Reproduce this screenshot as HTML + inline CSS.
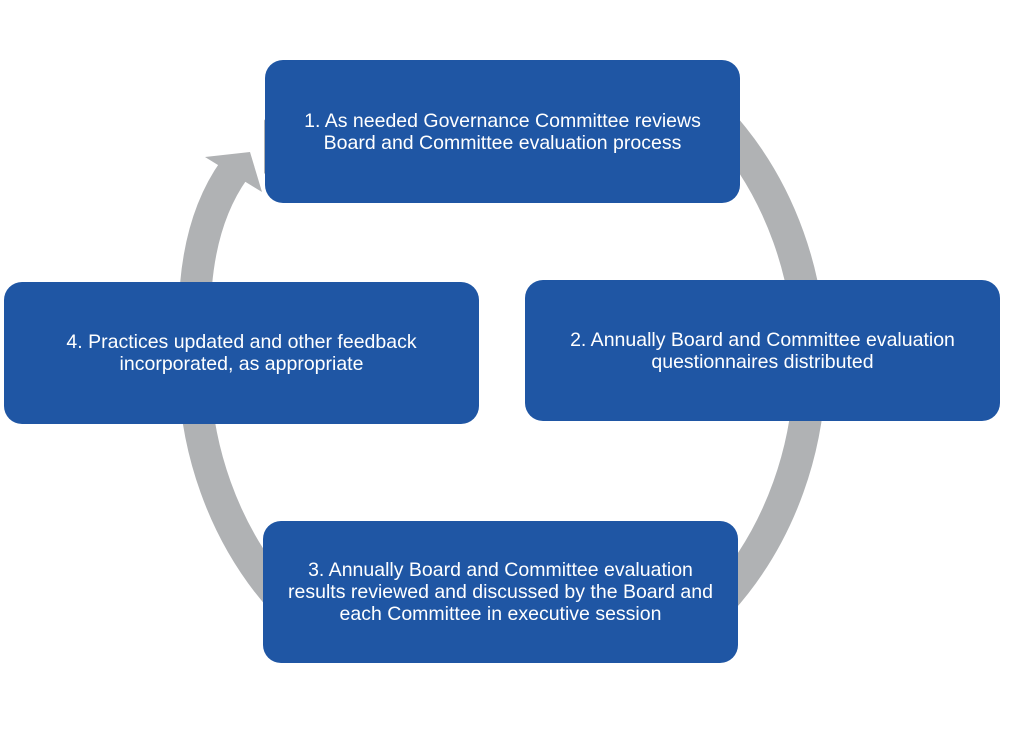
<!DOCTYPE html>
<html><head><style>
body{margin:0;width:1012px;height:744px;background:#fff;position:relative;overflow:hidden;font-family:"Liberation Sans",sans-serif}
.b{position:absolute;background:#1f56a4;border-radius:18px;color:#fff;font-size:19.5px;line-height:22px;text-align:center;display:flex;align-items:center;justify-content:center;box-sizing:border-box;padding:0 10px}
</style></head><body>
<svg width="1012" height="744" style="position:absolute;left:0;top:0">
<ellipse cx="502" cy="362" rx="308" ry="340" fill="none" stroke="#b0b2b4" stroke-width="32"/>
<rect x="160" y="0" width="104" height="283" fill="#fff"/>
<rect x="0" y="0" width="1012" height="62" fill="#fff"/>
<rect x="0" y="661" width="1012" height="83" fill="#fff"/>
<path d="M196 285 Q202 215 234 170" fill="none" stroke="#b0b2b4" stroke-width="32"/>
<polygon points="205,157 250,152 262,192" fill="#b0b2b4"/>
</svg>
<div class="b" style="left:265px;top:60px;width:475px;height:143px">1. As needed Governance Committee reviews<br>Board and Committee evaluation process</div>
<div class="b" style="left:525px;top:280px;width:475px;height:141px">2. Annually Board and Committee evaluation<br>questionnaires distributed</div>
<div class="b" style="left:263px;top:521px;width:475px;height:142px">3. Annually Board and Committee evaluation<br>results reviewed and discussed by the Board and<br>each Committee in executive session</div>
<div class="b" style="left:4px;top:282px;width:475px;height:142px">4. Practices updated and other feedback<br>incorporated, as appropriate</div>
</body></html>
